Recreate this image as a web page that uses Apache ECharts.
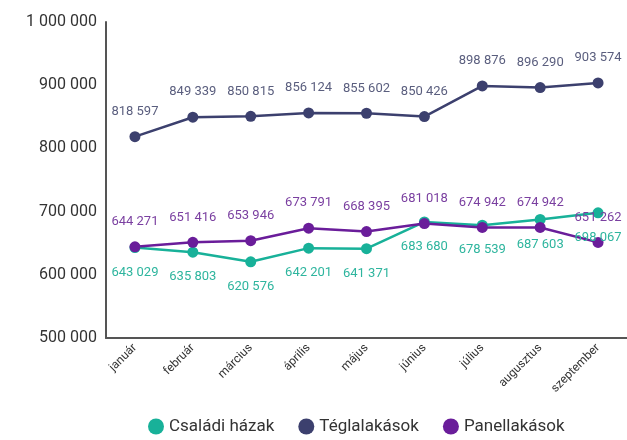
<!DOCTYPE html>
<html>
<head>
<meta charset="utf-8">
<script src="https://cdn.jsdelivr.net/npm/echarts@6/dist/echarts.min.js"></script>
<style>
  html, body { margin: 0; padding: 0; background: #fff; }
  #chart { width: 627px; height: 440px; }
</style>
</head>
<body>
<div id="chart"></div>
<script>
// hónapok
const months = ['január', 'február', 'március', 'április', 'május', 'június', 'július', 'augusztus', 'szeptember'];
const csaladiHazak = [643029, 635803, 620576, 642201, 641371, 683680, 678539, 687603, 698067];
const teglalakasok = [818597, 849339, 850815, 856124, 855602, 850426, 898876, 896290, 903574];
const panellakasok = [644271, 651416, 653946, 673791, 668395, 681018, 674942, 674942, 651262];
const yTicks = [500000, 600000, 700000, 800000, 900000, 1000000];

const fmt = v => String(v).replace(/\B(?=(\d{3})+(?!\d))/g, ' ');

const myChart = echarts.init(document.getElementById('chart'));

function lineSeries(name, data, color, labelColor, pos) {
    return {
        name: name,
        type: 'line',
        data: data,
        symbol: 'circle',
        symbolSize: 11,
        itemStyle: { color: color },
        lineStyle: { color: color, width: 2.5 },
        label: {
            show: true,
            position: pos,
            distance: 13,
            color: labelColor,
            fontSize: 13,
            fontFamily: 'Roboto',
            formatter: p => fmt(p.value)
        }
    };
}

const option = {
    animation: false,
    textStyle: { fontFamily: 'Roboto' },
    grid: {
        left: 106,
        top: 22,
        width: 529,
        height: 316
    },
    legend: {
        bottom: 0,
        left: 143,
        icon: 'circle',
        itemWidth: 16,
        itemHeight: 16,
        itemGap: 24,
        textStyle: { fontSize: 17, color: '#333', fontFamily: 'Roboto' },
        data: ['Családi házak', 'Téglalakások', 'Panellakások']
    },
    xAxis: {
        type: 'category',
        data: months,
        boundaryGap: true,
        axisLine: { lineStyle: { color: '#555', width: 2 } },
        axisTick: { show: false },
        axisLabel: {
            rotate: 45,
            interval: 0,
            color: '#333',
            fontSize: 12,
            margin: 8
        }
    },
    yAxis: {
        type: 'value',
        min: yTicks[0],
        max: yTicks[yTicks.length - 1],
        interval: 100000,
        axisLine: { show: true, lineStyle: { color: '#555', width: 2 } },
        axisTick: { show: false },
        splitLine: { show: false },
        axisLabel: {
            color: '#333',
            fontSize: 16,
            margin: 9,
            formatter: v => fmt(v)
        }
    },
    series: [
        lineSeries('Családi házak', csaladiHazak, '#18b199', '#2eb59e', 'bottom'),
        lineSeries('Téglalakások', teglalakasok, '#3c406e', '#5a5e7e', 'top'),
        lineSeries('Panellakások', panellakasok, '#6a1d9a', '#7a3fa0', 'top')
    ]
};

myChart.setOption(option);
</script>
</body>
</html>
